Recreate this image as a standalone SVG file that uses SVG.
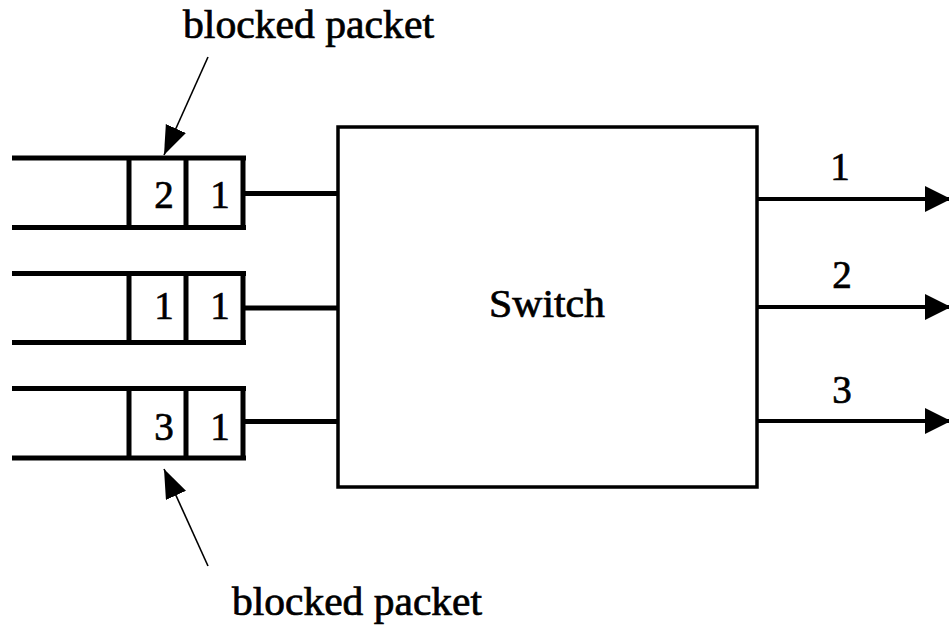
<svg xmlns="http://www.w3.org/2000/svg" width="949" height="626" viewBox="0 0 949 626">
  <defs>
    <style>
      .q { stroke: #000; stroke-width: 5; fill: none; }
      .link { stroke: #000; stroke-width: 5; fill: none; }
      .out { stroke: #000; stroke-width: 4; fill: none; }
      .note { stroke: #000; stroke-width: 1.6; fill: none; }
      .box { stroke: #000; stroke-width: 3.5; fill: #fff; }
      text { font-family: "Liberation Serif", "Times New Roman", serif; fill: #000; stroke: #000; stroke-width: 0.7; }
      .lbl { font-size: 39px; }
      .num { font-size: 39px; text-anchor: middle; }
    </style>
    <marker id="headOut" markerUnits="userSpaceOnUse" markerWidth="28" markerHeight="28" refX="26" refY="13" orient="auto">
      <path d="M0,0 L26,13 L0,26 z" fill="#000"/>
    </marker>
    <marker id="headNote" markerUnits="userSpaceOnUse" markerWidth="30" markerHeight="24" refX="29" refY="11" orient="auto">
      <path d="M0,0 L29,11 L0,22 z" fill="#000"/>
    </marker>
  </defs>

  <rect width="949" height="626" fill="#fff"/>

  <!-- switch fabric -->
  <g id="switch">
    <rect class="box" x="338" y="127" width="419" height="360"/>
    <text class="lbl" x="489" y="317" textLength="116" lengthAdjust="spacingAndGlyphs">Switch</text>
  </g>

  <!-- input queue 1 -->
  <g id="queue1">
    <path class="q" d="M12,158 H246 M12,227.5 H246 M129,158 V227.5 M186,158 V227.5 M243,158 V227.5"/>
    <text class="num" x="164" y="208">2</text>
    <text class="num" x="220" y="208">1</text>
  </g>

  <!-- input queue 2 -->
  <g id="queue2">
    <path class="q" d="M12,273.5 H246 M12,342.5 H246 M129,273.5 V342.5 M186,273.5 V342.5 M243,273.5 V342.5"/>
    <text class="num" x="164" y="319">1</text>
    <text class="num" x="220" y="319">1</text>
  </g>

  <!-- input queue 3 -->
  <g id="queue3">
    <path class="q" d="M12,388.5 H246 M12,458 H246 M129,388.5 V458 M186,388.5 V458 M243,388.5 V458"/>
    <text class="num" x="164" y="440">3</text>
    <text class="num" x="220" y="440">1</text>
  </g>

  <!-- annotations -->
  <g id="label-top">
    <text class="lbl" x="183" y="38" textLength="251" lengthAdjust="spacingAndGlyphs">blocked packet</text>
  </g>
  <g id="label-bottom">
    <text class="lbl" x="232" y="615" textLength="250" lengthAdjust="spacingAndGlyphs">blocked packet</text>
  </g>

  <!-- output port labels -->
  <g id="port1"><text class="num" x="840" y="180">1</text></g>
  <g id="port2"><text class="num" x="842" y="288">2</text></g>
  <g id="port3"><text class="num" x="842" y="403">3</text></g>

  <!-- connectors -->
  <g id="connectors">
    <line class="link" x1="243" y1="193.5" x2="338" y2="193.5"/>
    <line class="link" x1="243" y1="308" x2="338" y2="308"/>
    <line class="link" x1="243" y1="421.5" x2="338" y2="421.5"/>

    <line class="out" x1="757" y1="199" x2="951" y2="199" marker-end="url(#headOut)"/>
    <line class="out" x1="757" y1="307" x2="951" y2="307" marker-end="url(#headOut)"/>
    <line class="out" x1="757" y1="421" x2="951" y2="421" marker-end="url(#headOut)"/>

    <line class="note" x1="208" y1="57" x2="164" y2="155" marker-end="url(#headNote)"/>
    <line class="note" x1="208" y1="566" x2="164" y2="469" marker-end="url(#headNote)"/>
  </g>
</svg>
